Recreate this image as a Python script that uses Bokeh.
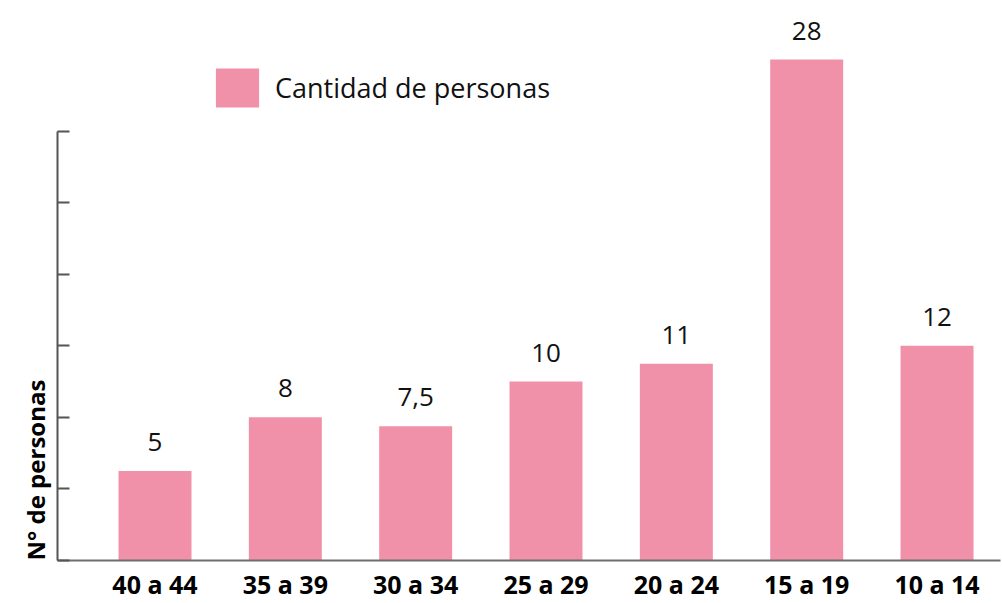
import math
from bokeh.plotting import figure
from bokeh.models import (ColumnDataSource, Range1d, FixedTicker, Legend, LegendItem,
                          Title, CustomJSTickFormatter)
from bokeh.core.properties import value
from bokeh.embed import file_html
from bokeh.resources import INLINE

categories = ["40 a 44", "35 a 39", "30 a 34", "25 a 29", "20 a 24", "15 a 19", "10 a 14"]
values = [5, 8, 7.5, 10, 11, 28, 12]
value_labels = ["5", "8", "7,5", "10", "11", "28", "12"]
series_name = "Cantidad de personas"
y_title = "N° de personas"
y_ticks = [0, 4, 8, 12, 16, 20, 24]

positions = list(range(len(categories)))
src = ColumnDataSource(dict(x=positions, top=values, lab=value_labels))

BAR = "#F191A9"
FONT = "Open Sans"

p = figure(width=1002, height=603, output_backend="svg", toolbar_location=None,
           x_range=Range1d(-0.748, 6.487), y_range=Range1d(0, 31.3),
           min_border_left=57, min_border_right=2, min_border_top=0, min_border_bottom=43)
p.outline_line_color = None
p.xgrid.visible = False
p.ygrid.visible = False
p.background_fill_color = "white"
p.border_fill_color = "white"

r = p.vbar(x="x", top="top", bottom=0, width=0.56, fill_color=BAR, line_color=None, source=src)

p.text(x="x", y="top", text="lab", source=src, text_align="center", text_baseline="alphabetic",
       y_offset=-29, text_font=value(FONT), text_font_size="26px", text_color="#111111")

# y axis
ya = p.yaxis[0]
ya.ticker = FixedTicker(ticks=y_ticks)
ya.bounds = (0, 24)
ya.formatter = CustomJSTickFormatter(code="return ''")
ya.major_tick_in = 12
ya.major_tick_out = 0
ya.minor_tick_line_color = None
ya.axis_line_width = 2
ya.axis_line_color = "#555555"
ya.major_tick_line_width = 2
ya.major_tick_line_color = "#555555"

# x axis
xa = p.xaxis[0]
xa.ticker = FixedTicker(ticks=positions)
xa.major_label_overrides = {i: c for i, c in zip(positions, categories)}
xa.major_tick_in = 0
xa.major_tick_out = 0
xa.minor_tick_line_color = None
xa.axis_line_width = 2
xa.axis_line_color = "#6e6e6e"
xa.major_label_text_font = FONT
xa.major_label_text_font_style = "bold"
xa.major_label_text_font_size = "25px"
xa.major_label_text_color = "#000000"
xa.major_label_standoff = 6

legend = Legend(items=[LegendItem(label=series_name, renderers=[r])], location=(153, 448),
                glyph_width=54, glyph_height=49, label_height=49, label_standoff=11,
                padding=0, margin=0, spacing=0, border_line_alpha=0, background_fill_alpha=0,
                label_text_font=FONT, label_text_font_size="27px", label_text_color="#111111")
p.add_layout(legend)

ytitle = Title(text=y_title, align="left", text_font=FONT, text_font_style="bold",
               text_font_size="24px", text_color="#000000", standoff=12, offset=0)
p.add_layout(ytitle, "left")

open("out.html", "w").write(file_html(p, INLINE))
